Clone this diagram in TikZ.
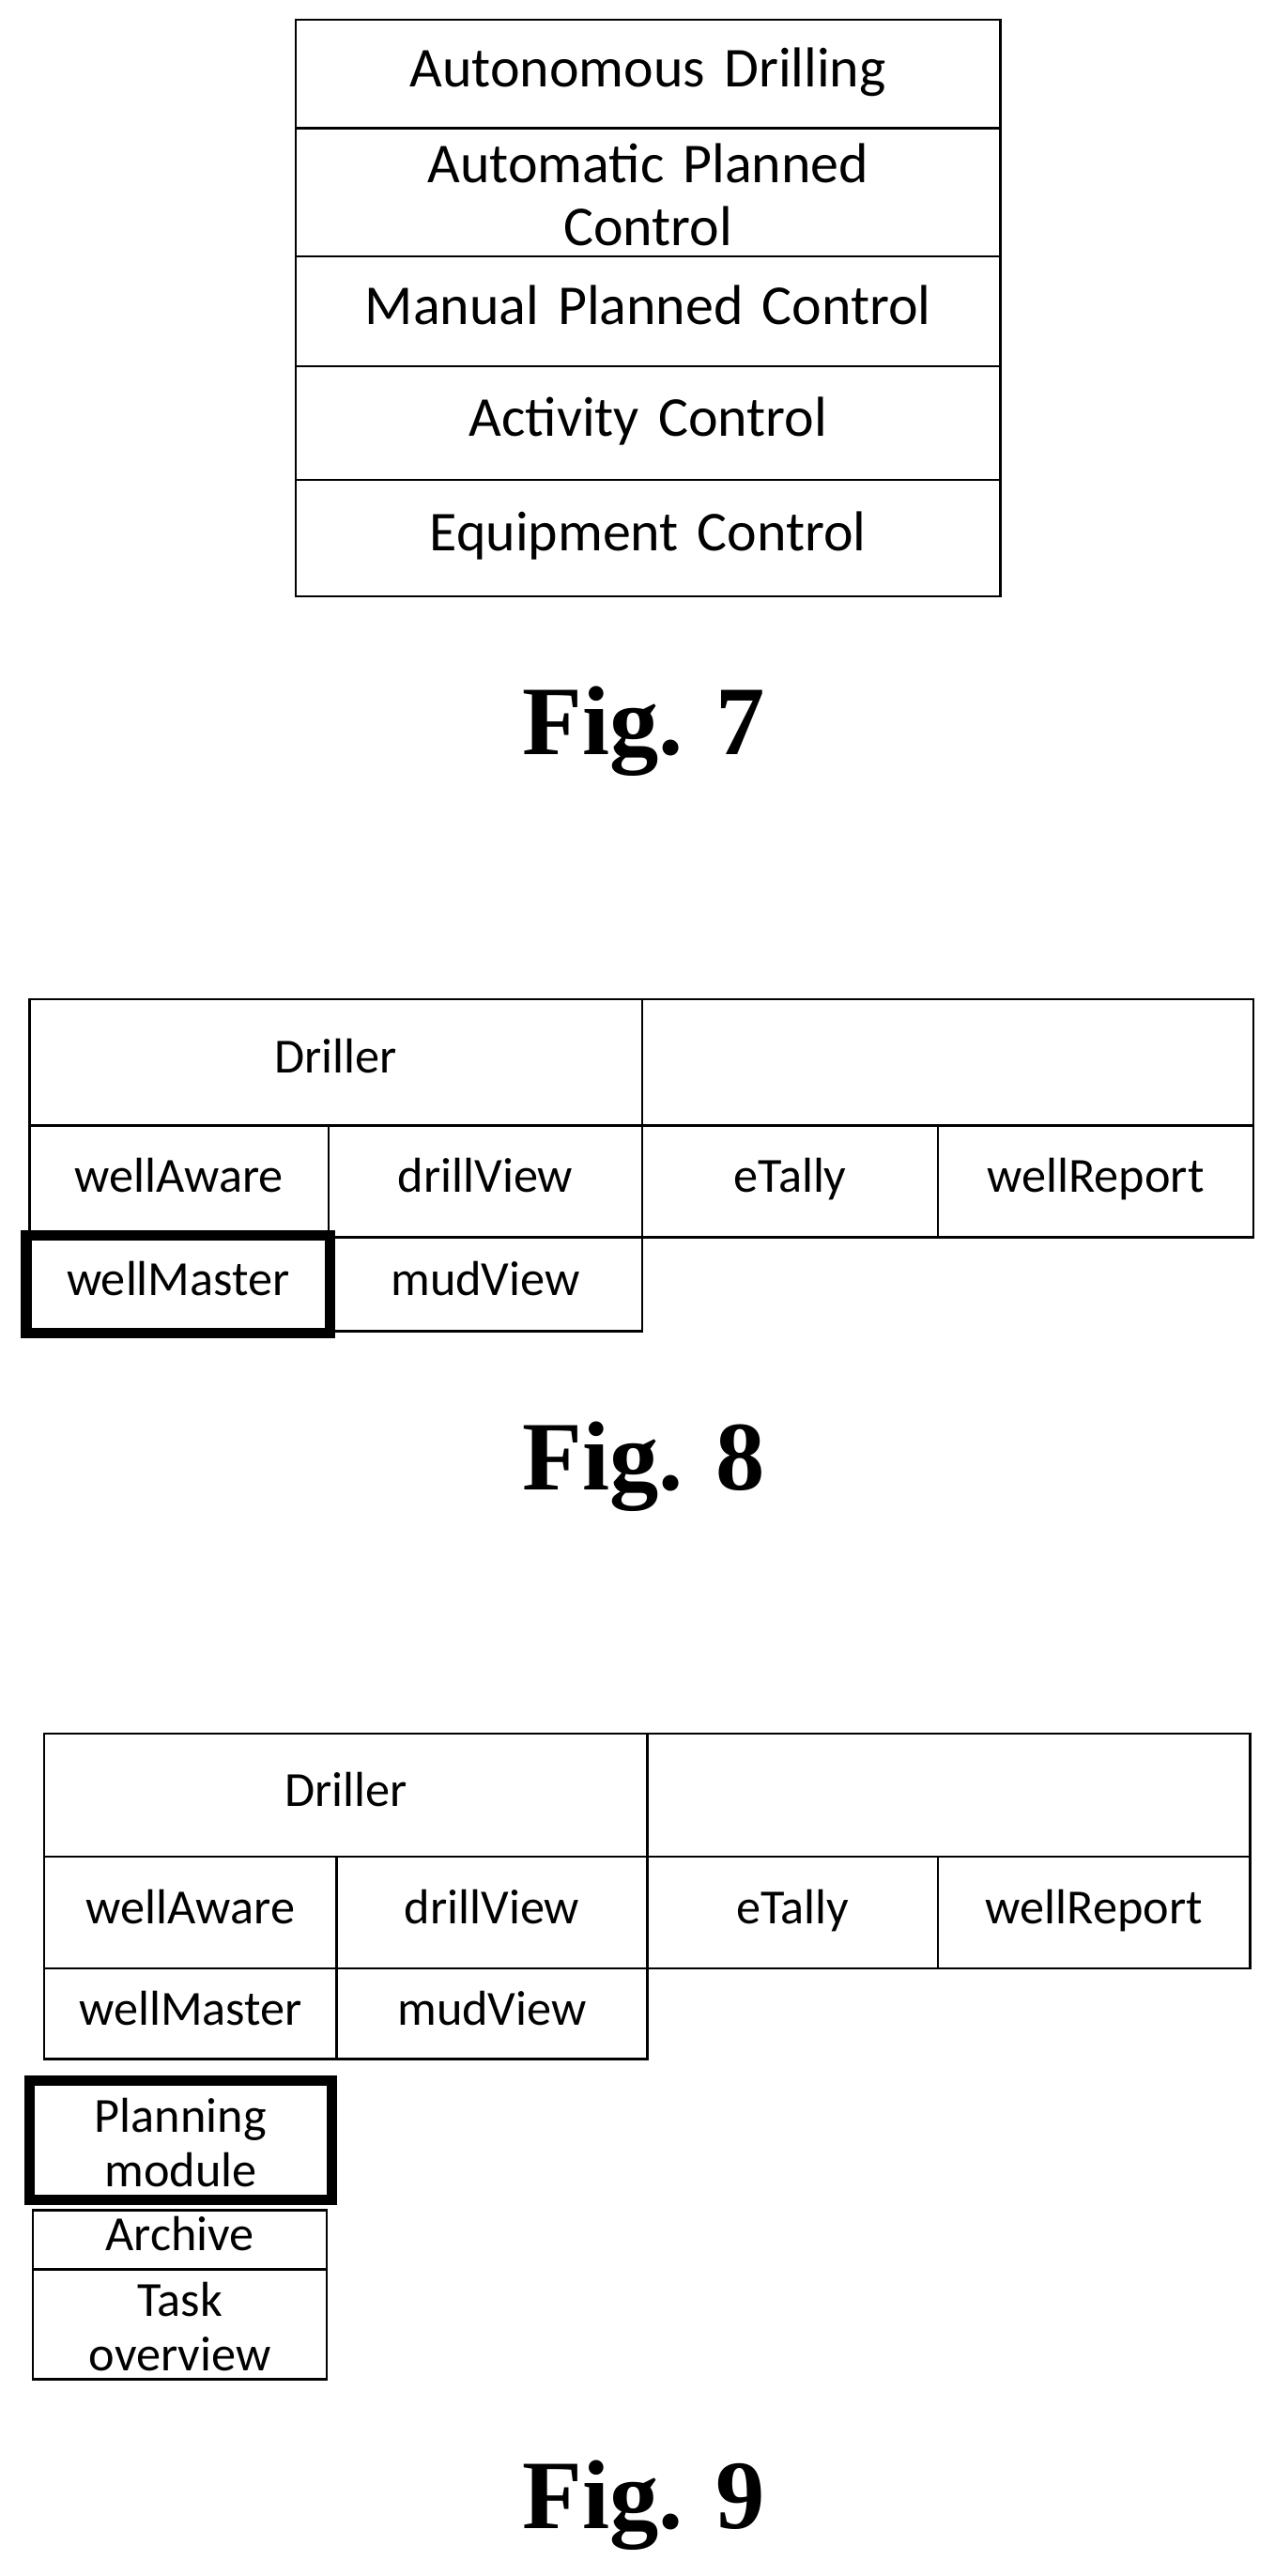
\documentclass[tikz,border=0pt]{standalone}
\usepackage{fontspec}
\setmainfont{Carlito}
\newfontfamily\capfont{Liberation Serif}
\usetikzlibrary{positioning}
\tikzset{
  cell/.style={draw, inner sep=0pt, align=center, line width=0.8pt, font=\fontsize{17}{19}\selectfont, execute at begin node=\strut},
  big/.style={cell, font=\fontsize{19.5}{22}\selectfont},
  marked/.style={line width=3.6pt},
  figcap/.style={font=\capfont\bfseries\fontsize{34}{40}\selectfont},
}
% cell from pixel corners (x1,y1) to (x2,y2)
\newcommand\cellbox[7][cell]{\node[#1,minimum width={(#4-#2)*0.02cm},minimum height={(#5-#3)*0.02cm},text width={(#4-#2)*0.02cm-4pt}] (#6) at ({(#2+#4)/2*0.02},{-(#3+#5)/2*0.02}) {#7};}
\begin{document}
\begin{tikzpicture}
\useasboundingbox (0,0) rectangle (15.52,-31.36);
% Fig. 7
\cellbox[big]{180}{12}{609}{78}{auto}{Autonomous Drilling}
\cellbox[big]{180}{78}{609}{156}{plan}{Automatic Planned\\Control}
\cellbox[big]{180}{156}{609}{223}{manual}{Manual Planned Control}
\cellbox[big]{180}{223}{609}{292}{activity}{Activity Control}
\cellbox[big]{180}{292}{609}{363}{equip}{Equipment Control}
\node[figcap] (fig7) at (7.84,-8.9) {Fig. 7};
% Fig. 8
\cellbox{18}{608}{391}{685}{driller}{Driller}
\cellbox{391}{608}{763}{685}{blank}{}
\cellbox{18}{685}{200}{753}{aware}{wellAware}
\cellbox{200}{685}{391}{753}{drill}{drillView}
\cellbox{391}{685}{571}{753}{tally}{eTally}
\cellbox{571}{685}{763}{753}{report}{wellReport}
\cellbox[cell,marked]{16}{752}{201}{811}{master}{wellMaster}
\cellbox{200}{753}{391}{810}{mud}{mudView}
\node[figcap] (fig8) at (7.84,-17.86) {Fig. 8};
% Fig. 9
\cellbox{27}{1055}{394}{1130}{drillerB}{Driller}
\cellbox{394}{1055}{761}{1130}{blankB}{}
\cellbox{27}{1130}{205}{1198}{awareB}{wellAware}
\cellbox{205}{1130}{394}{1198}{drillB}{drillView}
\cellbox{394}{1130}{571}{1198}{tallyB}{eTally}
\cellbox{571}{1130}{761}{1198}{reportB}{wellReport}
\cellbox{27}{1198}{205}{1253}{masterB}{wellMaster}
\cellbox{205}{1198}{394}{1253}{mudB}{mudView}
\cellbox[cell,marked]{18}{1266}{202}{1339}{planning}{Planning\\module}
\cellbox{20}{1345}{199}{1381}{archive}{Archive}
\cellbox{20}{1381}{199}{1448}{task}{Task\\overview}
\node[figcap] (fig9) at (7.84,-30.5) {Fig. 9};
\end{tikzpicture}
\end{document}
